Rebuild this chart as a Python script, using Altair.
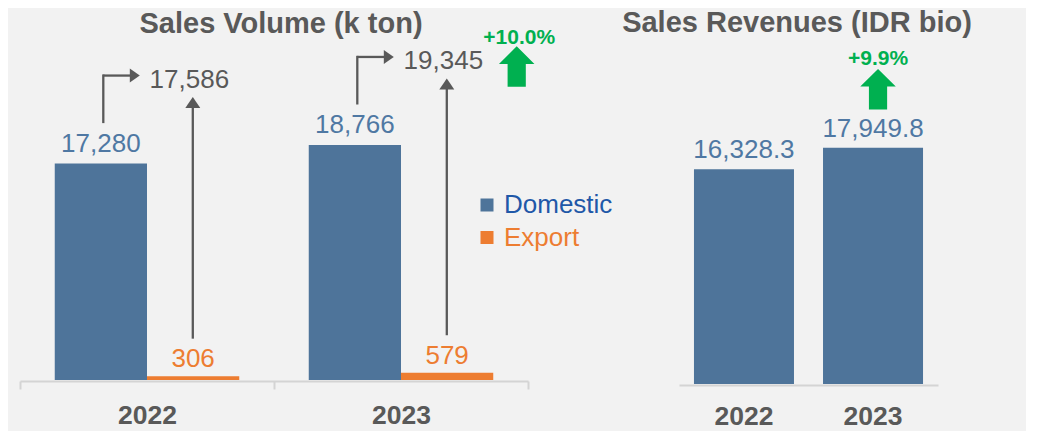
import altair as alt
import pandas as pd

# ---------------- data ----------------
years = ["2022", "2023"]
series = ["Domestic", "Export"]
domestic = [17280, 18766]
export = [306, 579]
totals = [17586, 19345]
volume_growth = ["", "+10.0%"]
revenues = [16328.3, 17949.8]
revenue_growth = ["", "+9.9%"]
titles = ["Sales Volume (k ton)", "Sales Revenues (IDR bio)"]

# ---------------- styles ----------------
FONT = "Liberation Sans, Arial, sans-serif"
GRAY = "#595959"
BLUE = "#4E749A"
LABEL_BLUE = "#4F78A3"
LEGEND_BLUE = "#1F58A8"
ORANGE = "#ED7D31"
GREEN = "#00B050"
AXIS_GRAY = "#D4D4D4"
BG = "#F2F2F2"

W1, H1, Y1MAX = 508, 372, 29700
W2, H2, Y2MAX = 259, 376, 28580

RIGHT_HEAD = "M0,0L-1.43,-1L-1.43,1Z"
UP_HEAD = "M0,0L1.07,1.57L-1.07,1.57Z"
BLOCK_ARROW = "M0,0L1,0.99L0.513,0.99L0.513,2.28L-0.513,2.28L-0.513,0.99L-1,0.99Z"

vol_long = pd.DataFrame({
    "year": years * 2,
    "series": [series[0]] * 2 + [series[1]] * 2,
    "value": domestic + export,
})
vol_wide = pd.DataFrame({
    "year": years, "domestic": domestic, "export": export,
    "total": totals, "growth": volume_growth,
})
rev = pd.DataFrame({"year": years, "revenue": revenues, "growth": revenue_growth})

# ---------------- left panel ----------------
x1 = alt.X(
    "year:N",
    scale=alt.Scale(domain=years, paddingInner=0, paddingOuter=0),
    axis=alt.Axis(
        title=None, labelAngle=0, labelFont=FONT, labelFontSize=26.5,
        labelFontWeight="bold", labelColor=GRAY, labelPadding=13,
        tickBand="extent", tickSize=8, tickColor=AXIS_GRAY, tickWidth=2,
        domainColor=AXIS_GRAY, domainWidth=2, offset=1, grid=False,
    ),
)
xo1 = alt.XOffset("series:N", scale=alt.Scale(domain=series, paddingInner=0, paddingOuter=0.3767))
ys1 = alt.Scale(domain=[0, Y1MAX])


def y1(field):
    return alt.Y(f"{field}:Q", scale=ys1, axis=None)


base_long = alt.Chart(vol_long)
base_wide = alt.Chart(vol_wide)

bars1 = base_long.mark_bar().encode(
    x=x1, xOffset=xo1, y=y1("value"),
    color=alt.Color(
        "series:N",
        scale=alt.Scale(domain=series, range=[BLUE, ORANGE]),
        legend=alt.Legend(
            title=None, orient="none", legendX=454, legendY=184,
            symbolType="square", symbolSize=169, symbolStrokeWidth=0, symbolOpacity=1,
            labelFont=FONT, labelFontSize=26, labelOffset=4, rowPadding=6.5, padding=0,
            labelColor={"expr": f"datum.label == 'Domestic' ? '{LEGEND_BLUE}' : '{ORANGE}'"},
        ),
    ),
)

dom_labels = base_long.transform_filter("datum.series == 'Domestic'").mark_text(
    font=FONT, fontSize=26, color=LABEL_BLUE, baseline="alphabetic", dy=-11.8
).encode(x=x1, xOffset=xo1, y=y1("value"), text=alt.Text("value:Q", format=",.0f"))

exp_labels = base_long.transform_filter("datum.series == 'Export'").mark_text(
    font=FONT, fontSize=26, color=ORANGE, baseline="alphabetic", dy=-8.7
).encode(x=x1, xOffset=xo1, y=y1("value"), text=alt.Text("value:Q", format=",.0f"))

total_labels = base_wide.mark_text(
    font=FONT, fontSize=26, color=GRAY, align="left", baseline="alphabetic", dx=2.6, dy=-75.5
).encode(x=x1, y=y1("domestic"), text=alt.Text("total:Q", format=",.0f"))

conn_v = base_wide.mark_rule(
    color=GRAY, strokeWidth=2.3, xOffset=-43.7, yOffset=-41.6, y2Offset=-88, strokeCap="square"
).encode(x=x1, y=y1("domestic"), y2="domestic:Q")

conn_h = base_wide.mark_rule(
    color=GRAY, strokeWidth=2.3, xOffset=-43.7, x2Offset=-16, yOffset=-88
).encode(x=x1, x2="year:N", y=y1("domestic"))

conn_head = base_wide.mark_point(
    shape=RIGHT_HEAD, size=196, filled=True, color=GRAY, opacity=1, strokeWidth=0,
    xOffset=-7.2, yOffset=-88,
).encode(x=x1, y=y1("domestic"))

up_line = base_wide.mark_rule(
    color=GRAY, strokeWidth=2.3, xOffset=45.8, yOffset=-37.5, y2Offset=-57
).encode(x=x1, y=y1("export"), y2="domestic:Q")

up_head = base_wide.mark_point(
    shape=UP_HEAD, size=196, filled=True, color=GRAY, opacity=1, strokeWidth=0,
    xOffset=45.8, yOffset=-66.5,
).encode(x=x1, y=y1("domestic"))

growth1 = base_wide.transform_filter("datum.growth != ''")
growth1_text = growth1.mark_text(
    font=FONT, fontSize=21, fontWeight="bold", color=GREEN, baseline="alphabetic",
    dx=118.2, dy=-101.3,
).encode(x=x1, y=y1("domestic"), text="growth:N")
growth1_arrow = growth1.mark_point(
    shape=BLOCK_ARROW, size=1260, filled=True, color=GREEN, opacity=1, strokeWidth=0,
    xOffset=115.7, yOffset=-98.6,
).encode(x=x1, y=y1("domestic"))

title1 = alt.Chart(pd.DataFrame({"t": [titles[0]]})).mark_text(
    font=FONT, fontSize=29, fontWeight="bold", color=GRAY, baseline="alphabetic", align="center"
).encode(x=alt.value(261), y=alt.value(25), text="t:N")

left = alt.layer(
    bars1, dom_labels, exp_labels, total_labels, conn_v, conn_h, conn_head,
    up_line, up_head, growth1_text, growth1_arrow, title1,
).properties(width=W1, height=H1)

# ---------------- right panel ----------------
x2 = alt.X(
    "year:N",
    scale=alt.Scale(domain=years, paddingInner=0.225, paddingOuter=0.116),
    axis=alt.Axis(
        title=None, labelAngle=0, labelFont=FONT, labelFontSize=26.5,
        labelFontWeight="bold", labelColor=GRAY, labelPadding=18.7,
        ticks=False, tickSize=0, domainColor=AXIS_GRAY, domainWidth=2, offset=1, grid=False,
    ),
)
ys2 = alt.Scale(domain=[0, Y2MAX])
y2 = alt.Y("revenue:Q", scale=ys2, axis=None)

base_rev = alt.Chart(rev)
bars2 = base_rev.mark_bar(color=BLUE).encode(x=x2, y=y2)
rev_labels = base_rev.mark_text(
    font=FONT, fontSize=26, color=LABEL_BLUE, baseline="alphabetic", dy=-10.7
).encode(x=x2, y=y2, text=alt.Text("revenue:Q", format=",.1f"))

growth2 = base_rev.transform_filter("datum.growth != ''")
growth2_text = growth2.mark_text(
    font=FONT, fontSize=21, fontWeight="bold", color=GREEN, baseline="alphabetic",
    dx=5, dy=-82.8,
).encode(x=x2, y=y2, text="growth:N")
growth2_arrow = growth2.mark_point(
    shape=BLOCK_ARROW, size=1260, filled=True, color=GREEN, opacity=1, strokeWidth=0,
    xOffset=5, yOffset=-78.8,
).encode(x=x2, y=y2)

title2 = alt.Chart(pd.DataFrame({"t": [titles[1]]})).mark_text(
    font=FONT, fontSize=29, fontWeight="bold", color=GRAY, baseline="alphabetic", align="center"
).encode(x=alt.value(118), y=alt.value(23.5), text="t:N")

right = alt.layer(bars2, rev_labels, growth2_text, growth2_arrow, title2).properties(
    width=W2, height=H2
)

chart = alt.hconcat(left, right, spacing=151, bounds="flush").properties(
    background=BG, padding={"left": 11, "top": 0, "right": 54, "bottom": 0}
).configure_view(stroke=None)

chart.save("out.html", embed_options={"renderer": "svg", "actions": False})
